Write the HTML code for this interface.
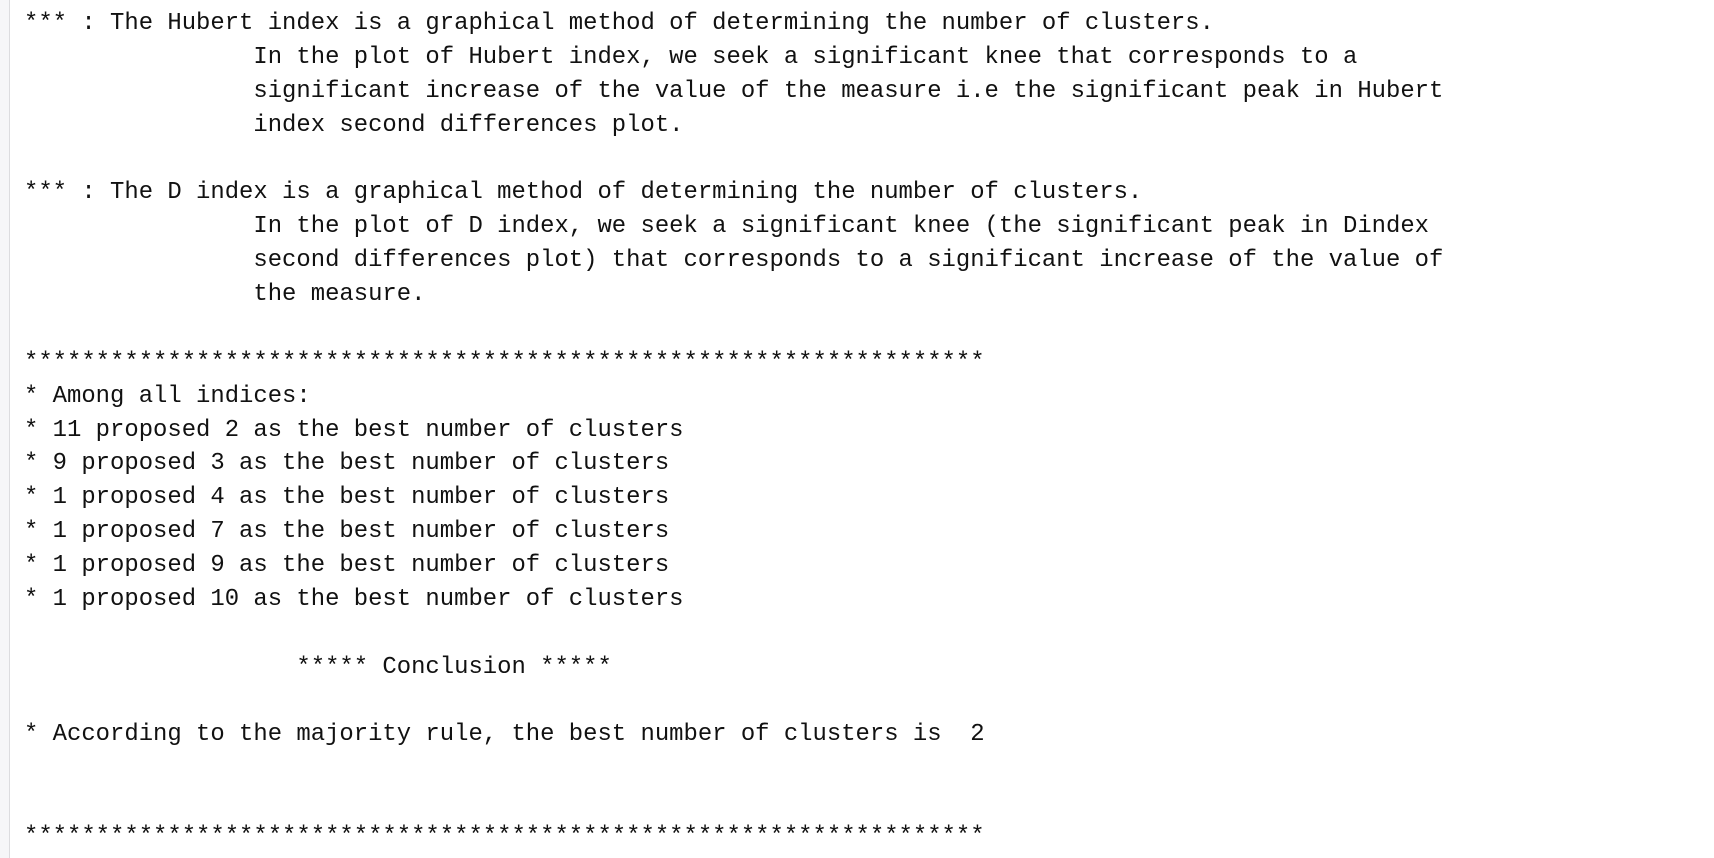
<!DOCTYPE html>
<html><head><meta charset="utf-8"><style>
html,body{margin:0;padding:0;background:#fff;width:1714px;height:858px;overflow:hidden}
.side{position:absolute;left:0;top:0;width:9px;height:858px;background:#f6f6f8;border-right:1px solid #dcdcdf}
pre{position:absolute;left:24px;top:7px;margin:0;font-family:"Liberation Mono",monospace;font-size:23.9px;line-height:33.88px;color:#111}
</style></head><body>
<div class="side"></div>
<pre>*** : The Hubert index is a graphical method of determining the number of clusters.
                In the plot of Hubert index, we seek a significant knee that corresponds to a
                significant increase of the value of the measure i.e the significant peak in Hubert
                index second differences plot.

*** : The D index is a graphical method of determining the number of clusters.
                In the plot of D index, we seek a significant knee (the significant peak in Dindex
                second differences plot) that corresponds to a significant increase of the value of
                the measure.

*******************************************************************
* Among all indices:
* 11 proposed 2 as the best number of clusters
* 9 proposed 3 as the best number of clusters
* 1 proposed 4 as the best number of clusters
* 1 proposed 7 as the best number of clusters
* 1 proposed 9 as the best number of clusters
* 1 proposed 10 as the best number of clusters

                   ***** Conclusion *****

* According to the majority rule, the best number of clusters is  2


*******************************************************************</pre>
</body></html>
